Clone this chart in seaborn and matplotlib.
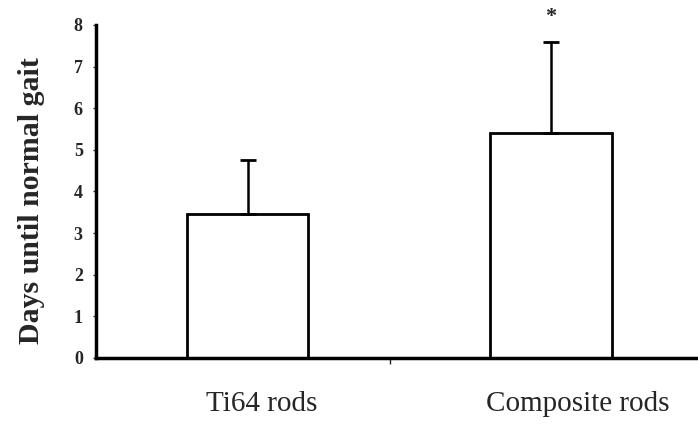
import numpy as np
import pandas as pd
import seaborn as sns
import matplotlib.pyplot as plt
from matplotlib.transforms import ScaledTranslation

# 데이터
groups = ['Ti64 rods', 'Composite rods']
mean_days = [3.45, 5.4]
sd_days = [1.3, 2.2]
marks = ['', '*']

df = pd.DataFrame({'group': groups, 'days': mean_days})

sns.set_style('white')
plt.rcParams['font.family'] = ['Liberation Serif', 'DejaVu Serif']

fig = plt.figure(figsize=(6.98, 4.28), dpi=100)
ax = fig.add_axes([0.1375, 0.1636, 0.8625, 0.778])

sns.barplot(x='group', y='days', data=df, color='white', edgecolor='black',
            linewidth=2.0, width=0.4, errorbar=None, ax=ax)

# 위쪽 오차막대만
pos = np.arange(len(groups))
ax.errorbar(pos, mean_days, yerr=[np.zeros(len(groups)), sd_days], fmt='none',
            ecolor='black', elinewidth=1.8, capsize=6, capthick=2)

for i, m in enumerate(marks):
    if m:
        ax.text(pos[i], mean_days[i] + sd_days[i] + 0.35, m, ha='center', va='bottom',
                fontsize=16, fontweight='bold')

ax.set_xlim(-0.5, 1.485)
ax.set_ylim(0, 8)
ax.set_yticks(range(0, 9))
ax.set_yticklabels([str(v) for v in range(0, 9)], fontsize=13, fontweight='bold')
ax.tick_params(axis='x', labelsize=21, length=0, pad=24)
ax.tick_params(axis='y', length=2, width=1, pad=7.5, left=True)
ax.set_xticks([0.47], minor=True)
ax.tick_params(axis='x', which='minor', length=4, width=1, bottom=True)
ax.set_xlabel('')
ax.set_ylabel('Days until normal gait', fontsize=21.5, fontweight='bold')
ax.yaxis.set_label_coords(-0.085, 0.474)

# 원본처럼 라벨이 약간 오른쪽으로 치우침
for lab, dx in zip(ax.get_xticklabels(), [10, 19]):
    lab.set_transform(lab.get_transform() + ScaledTranslation(dx / 72, 0, fig.dpi_scale_trans))

sns.despine(ax=ax)
for s in ['left', 'bottom']:
    ax.spines[s].set_linewidth(2.5)
    ax.spines[s].set_color('black')

fig.savefig('out.png', dpi=100)
